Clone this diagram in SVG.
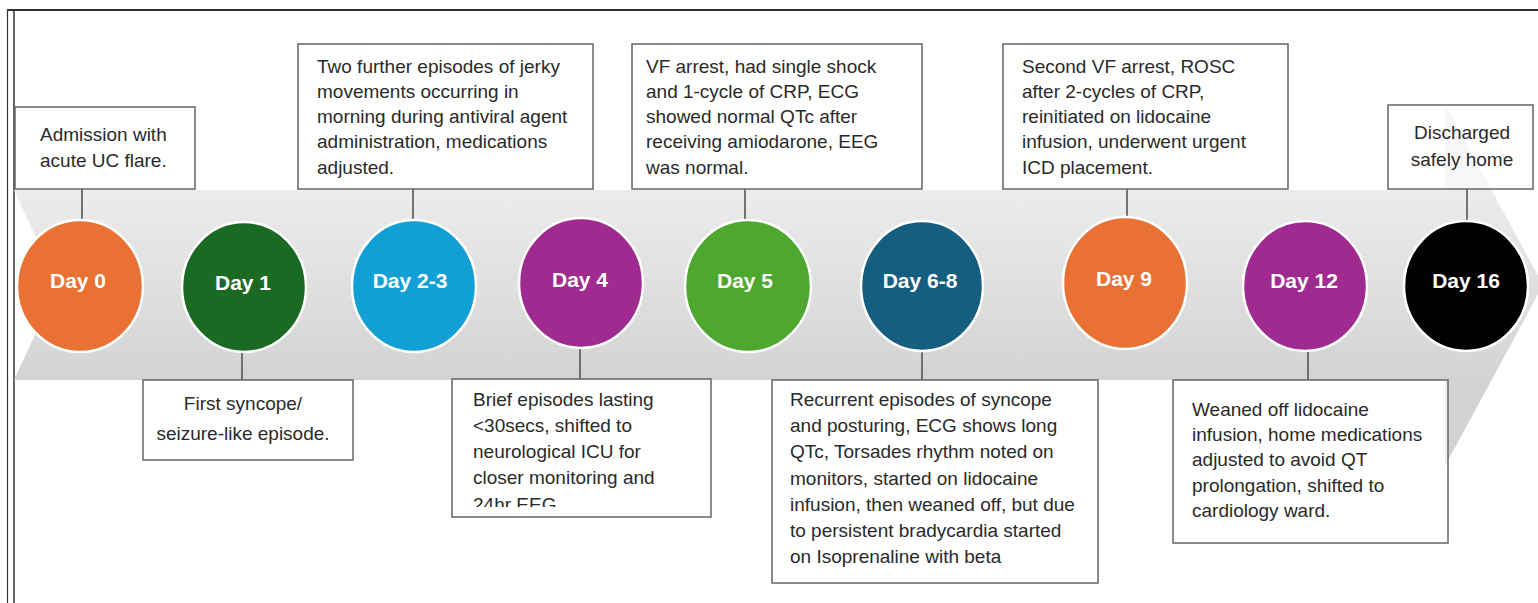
<svg xmlns="http://www.w3.org/2000/svg" width="1538" height="603" viewBox="0 0 1538 603">
<style>
.box{fill:#fff;fill-opacity:0.6;stroke:#666;stroke-width:1.5}
.t{font-family:"Liberation Sans",Arial,sans-serif;font-size:19px;fill:#2a2a2a}
.c{text-anchor:middle}
.day{stroke:#fff;stroke-width:2.5}
.lbl{font-family:"Liberation Sans",Arial,sans-serif;font-size:21px;font-weight:bold;fill:#fff;text-anchor:middle}
.con{stroke:#555;stroke-width:1.6;fill:none}
</style>
<defs>
<linearGradient id="band" gradientUnits="userSpaceOnUse" x1="0" y1="190" x2="0" y2="380">
<stop offset="0" stop-color="#ececec"/>
<stop offset="1" stop-color="#d3d3d3"/>
</linearGradient>
<clipPath id="clip4"><rect x="452" y="379" width="259" height="128"/></clipPath>
<clipPath id="clip68"><rect x="772" y="380" width="326" height="194"/></clipPath>
</defs>
<rect width="1538" height="603" fill="#fff"/>
<!-- frame -->
<g id="frame" fill="none" stroke="#333">
<line x1="7" y1="10" x2="1538" y2="10" stroke-width="2"/>
<line x1="7.5" y1="10" x2="7.5" y2="603" stroke-width="1.2"/>
<line x1="14" y1="10" x2="14" y2="603" stroke-width="1.5"/>
</g>
<!-- arrow band -->
<path id="arrow" d="M14 190 L1445 190 L1445 104 L1543 285 L1445 466 L1445 380 L14 380 L58 285 Z" fill="url(#band)"/>
<!-- connectors -->
<g id="connectors" class="con">
<line x1="82" y1="189" x2="82" y2="221"/>
<line x1="242" y1="352" x2="242" y2="380"/>
<line x1="413" y1="189" x2="413" y2="221"/>
<line x1="580" y1="348" x2="580" y2="379"/>
<line x1="745" y1="189" x2="745" y2="221"/>
<line x1="922" y1="352" x2="922" y2="380"/>
<line x1="1127" y1="189" x2="1127" y2="218"/>
<line x1="1308" y1="352" x2="1308" y2="380"/>
<line x1="1467" y1="189" x2="1467" y2="221"/>
</g>
<!-- day nodes -->
<g id="day0"><ellipse class="day" cx="80" cy="286" rx="63" ry="66" fill="#ea7134"/><text class="lbl" x="78" y="288">Day 0</text></g>
<g id="day1"><ellipse class="day" cx="244" cy="287" rx="62" ry="65" fill="#1b6a24"/><text class="lbl" x="243" y="290">Day 1</text></g>
<g id="day2-3"><ellipse class="day" cx="414" cy="286" rx="62" ry="66" fill="#129fd6"/><text class="lbl" x="410" y="288">Day 2-3</text></g>
<g id="day4"><ellipse class="day" cx="581" cy="283" rx="62" ry="65" fill="#a02b90"/><text class="lbl" x="580" y="287">Day 4</text></g>
<g id="day5"><ellipse class="day" cx="748" cy="286" rx="63" ry="66" fill="#4ea72f"/><text class="lbl" x="745" y="288">Day 5</text></g>
<g id="day6-8"><ellipse class="day" cx="922" cy="286" rx="61" ry="65" fill="#155e80"/><text class="lbl" x="920" y="288">Day 6-8</text></g>
<g id="day9"><ellipse class="day" cx="1125" cy="283" rx="62" ry="66" fill="#ea7134"/><text class="lbl" x="1124" y="286">Day 9</text></g>
<g id="day12"><ellipse class="day" cx="1305" cy="286" rx="62" ry="65" fill="#a02b90"/><text class="lbl" x="1304" y="288">Day 12</text></g>
<g id="day16"><ellipse class="day" cx="1466" cy="286" rx="62" ry="65" fill="#000"/><text class="lbl" x="1466" y="288">Day 16</text></g>
<!-- boxes -->
<g id="box-day0"><rect class="box" x="15" y="107" width="180" height="82"/>
<text class="t" x="40" y="141">Admission with</text>
<text class="t" x="40" y="167">acute UC flare.</text></g>
<g id="box-day1"><rect class="box" x="143" y="380" width="210" height="80"/>
<text class="t c" x="243" y="410">First syncope/</text>
<text class="t c" x="243" y="440">seizure-like episode.</text></g>
<g id="box-day2-3"><rect class="box" x="298" y="44" width="295" height="145"/>
<text class="t" x="317" y="73">Two further episodes of jerky</text>
<text class="t" x="317" y="98">movements occurring in</text>
<text class="t" x="317" y="123">morning during antiviral agent</text>
<text class="t" x="317" y="148">administration, medications</text>
<text class="t" x="317" y="174">adjusted.</text></g>
<g id="box-day4"><rect class="box" x="452" y="379" width="259" height="138"/>
<g clip-path="url(#clip4)">
<text class="t" x="473" y="406">Brief episodes lasting</text>
<text class="t" x="473" y="432">&lt;30secs, shifted to</text>
<text class="t" x="473" y="458">neurological ICU for</text>
<text class="t" x="473" y="484">closer monitoring and</text>
<text class="t" x="473" y="511">24hr EEG</text></g></g>
<g id="box-day5"><rect class="box" x="632" y="44" width="290" height="145"/>
<text class="t" x="646" y="73">VF arrest, had single shock</text>
<text class="t" x="646" y="98">and 1-cycle of CRP, ECG</text>
<text class="t" x="646" y="123">showed normal QTc after</text>
<text class="t" x="646" y="148">receiving amiodarone, EEG</text>
<text class="t" x="646" y="174">was normal.</text></g>
<g id="box-day6-8"><rect class="box" x="772" y="380" width="326" height="203"/>
<g clip-path="url(#clip68)">
<text class="t" x="790" y="406">Recurrent episodes of syncope</text>
<text class="t" x="790" y="432">and posturing, ECG shows long</text>
<text class="t" x="790" y="458">QTc, Torsades rhythm noted on</text>
<text class="t" x="790" y="485">monitors, started on lidocaine</text>
<text class="t" x="790" y="511">infusion, then weaned off, but due</text>
<text class="t" x="790" y="537">to persistent bradycardia started</text>
<text class="t" x="790" y="563">on Isoprenaline with beta</text>
<text class="t" x="790" y="587">blockers.</text></g></g>
<g id="box-day9"><rect class="box" x="1003" y="44" width="285" height="145"/>
<text class="t" x="1022" y="73">Second VF arrest, ROSC</text>
<text class="t" x="1022" y="98">after 2-cycles of CRP,</text>
<text class="t" x="1022" y="123">reinitiated on lidocaine</text>
<text class="t" x="1022" y="148">infusion, underwent urgent</text>
<text class="t" x="1022" y="174">ICD placement.</text></g>
<g id="box-day12"><rect class="box" x="1173" y="380" width="275" height="163"/>
<text class="t" x="1192" y="416">Weaned off lidocaine</text>
<text class="t" x="1192" y="441">infusion, home medications</text>
<text class="t" x="1192" y="466">adjusted to avoid QT</text>
<text class="t" x="1192" y="492">prolongation, shifted to</text>
<text class="t" x="1192" y="517">cardiology ward.</text></g>
<g id="box-day16"><rect class="box" x="1388" y="105" width="145" height="84"/>
<text class="t c" x="1462" y="139">Discharged</text>
<text class="t c" x="1462" y="166">safely home</text></g>
</svg>
